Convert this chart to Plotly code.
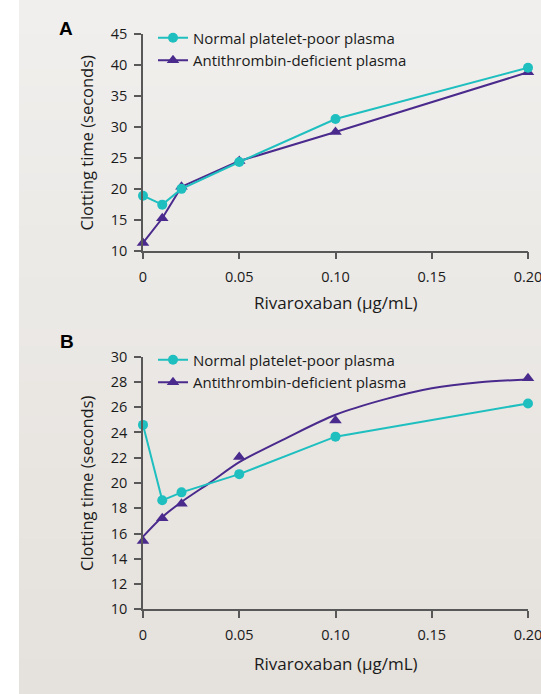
import plotly.graph_objects as go

W, H = 541, 694

# ---------------- data ----------------
dose = [0, 0.01, 0.02, 0.05, 0.10, 0.20]

a_normal = [18.9, 17.45, 20.0, 24.35, 31.3, 39.6]
a_at = [11.25, 15.25, 20.35, 24.5, 29.2, 38.85]

b_normal = [24.6, 18.63, 19.26, 20.7, 23.67, 26.3]
b_at = [15.4, 17.2, 18.35, 22.05, 24.95, 28.3]
b_at_fit_x = [0, 0.01, 0.02, 0.035, 0.05, 0.075, 0.10, 0.125, 0.15, 0.175, 0.20]
b_at_fit_y = [15.75, 17.3, 18.5, 20.05, 21.65, 23.6, 25.4, 26.6, 27.5, 27.97, 28.2]

x_tickvals = [0, 0.05, 0.10, 0.15, 0.20]
x_ticktext = ["0", "0.05", "0.10", "0.15", "0.20"]
a_yticks = [10, 15, 20, 25, 30, 35, 40, 45]
b_yticks = [10, 12, 14, 16, 18, 20, 22, 24, 26, 28, 30]

name_normal = "Normal platelet-poor plasma"
name_at = "Antithrombin-deficient plasma"
x_title = "Rivaroxaban (µg/mL)"
y_title = "Clotting time (seconds)"

# ---------------- style ----------------
CYAN = "#1fbfc0"
PURPLE = "#4a2a8c"
AXIS = "#585858"
TEXT = "#1a1a1a"
FONT = "Open Sans"


def px_x(p):
    return p / W


def px_y(p):
    return 1 - p / H


fig = go.Figure()

# Panel A
fig.add_trace(go.Scatter(x=dose, y=a_at, mode="lines+markers", name=name_at,
                         line=dict(color=PURPLE, width=2),
                         marker=dict(symbol="triangle-up", size=11, color=PURPLE),
                         xaxis="x", yaxis="y", legend="legend", legendrank=2,
                         cliponaxis=False))
fig.add_trace(go.Scatter(x=dose, y=a_normal, mode="lines+markers", name=name_normal,
                         line=dict(color=CYAN, width=2),
                         marker=dict(symbol="circle", size=10, color=CYAN),
                         xaxis="x", yaxis="y", legend="legend", legendrank=1,
                         cliponaxis=False))

# Panel B
fig.add_trace(go.Scatter(x=b_at_fit_x, y=b_at_fit_y, mode="lines", showlegend=False,
                         line=dict(color=PURPLE, width=2, shape="spline", smoothing=0.8),
                         xaxis="x2", yaxis="y2", cliponaxis=False))
fig.add_trace(go.Scatter(x=dose, y=b_at, mode="markers", showlegend=False,
                         marker=dict(symbol="triangle-up", size=11, color=PURPLE),
                         xaxis="x2", yaxis="y2", cliponaxis=False))
fig.add_trace(go.Scatter(x=[None], y=[None], mode="lines+markers", name=name_at,
                         line=dict(color=PURPLE, width=2),
                         marker=dict(symbol="triangle-up", size=11, color=PURPLE),
                         xaxis="x2", yaxis="y2", legend="legend2", legendrank=2))
fig.add_trace(go.Scatter(x=dose, y=b_normal, mode="lines+markers", name=name_normal,
                         line=dict(color=CYAN, width=2),
                         marker=dict(symbol="circle", size=10, color=CYAN),
                         xaxis="x2", yaxis="y2", legend="legend2", legendrank=1,
                         cliponaxis=False))

axis_common = dict(showline=True, linecolor=AXIS, linewidth=1.5, ticks="outside",
                   ticklen=7, tickwidth=1.5, tickcolor=AXIS, showgrid=False,
                   zeroline=False, automargin=False, ticklabeloverflow="allow",
                   tickfont=dict(size=14.5, color=TEXT, family=FONT))

xdom = [px_x(143), px_x(528)]

LEG_FONT = dict(size=15, color=TEXT, family=FONT)

fig.update_layout(
    template="none",
    width=W, height=H,
    margin=dict(l=0, r=0, t=0, b=0, pad=0),
    paper_bgcolor="white", plot_bgcolor="rgba(0,0,0,0)",
    font=dict(family=FONT, color=TEXT),
    xaxis=dict(domain=xdom, range=[0, 0.2], anchor="y", tickvals=x_tickvals,
               ticktext=x_ticktext, ticklabelstandoff=5, **axis_common),
    yaxis=dict(domain=[px_y(250.7), px_y(34.3)], range=[10, 45], anchor="x",
               tickvals=a_yticks, ticklabelstandoff=4, **axis_common),
    xaxis2=dict(domain=xdom, range=[0, 0.2], anchor="y2", tickvals=x_tickvals,
                ticktext=x_ticktext, ticklabelstandoff=5, **axis_common),
    yaxis2=dict(domain=[px_y(609.3), px_y(356.7)], range=[10, 30], anchor="x2",
                tickvals=b_yticks, ticklabelstandoff=4, **axis_common),
    legend=dict(x=px_x(153), y=px_y(21.5), xanchor="left", yanchor="top",
                bgcolor="rgba(0,0,0,0)", font=LEG_FONT,
                tracegroupgap=0, itemwidth=30),
    legend2=dict(x=px_x(153), y=px_y(343.5), xanchor="left", yanchor="top",
                 bgcolor="rgba(0,0,0,0)", font=LEG_FONT,
                 tracegroupgap=0, itemwidth=30),
)

# background panel with a soft vertical gradient
top = (240, 239, 237)
bot = (229, 225, 220)
n = 40
shapes = []
for i in range(n):
    t = i / (n - 1)
    c = tuple(round(top[k] + (bot[k] - top[k]) * t) for k in range(3))
    shapes.append(dict(type="rect", xref="paper", yref="paper",
                       x0=px_x(19), x1=1, y0=1 - (i + 1) / n, y1=1 - i / n + 0.001,
                       fillcolor="rgb(%d,%d,%d)" % c, line=dict(width=0), layer="below"))
fig.update_layout(shapes=shapes)


def ann(text, x, y, size, family=FONT, angle=0, color=TEXT):
    return dict(text=text, x=px_x(x), y=px_y(y), xref="paper", yref="paper",
                xanchor="center", yanchor="middle", showarrow=False,
                textangle=angle, font=dict(size=size, family=family, color=color))


annotations = [
    ann("<b>A</b>", 65.5, 28, 19, family="Liberation Sans", color="black"),
    ann("<b>B</b>", 67, 341, 19, family="Liberation Sans", color="black"),
    ann(x_title, 336, 302, 17),
    ann(x_title, 336, 663.3, 17),
    ann(y_title, 86, 142.5, 16.5, angle=-90),
    ann(y_title, 86, 483, 16.5, angle=-90),
]
fig.update_layout(annotations=annotations)

fig.write_html("out.html")
